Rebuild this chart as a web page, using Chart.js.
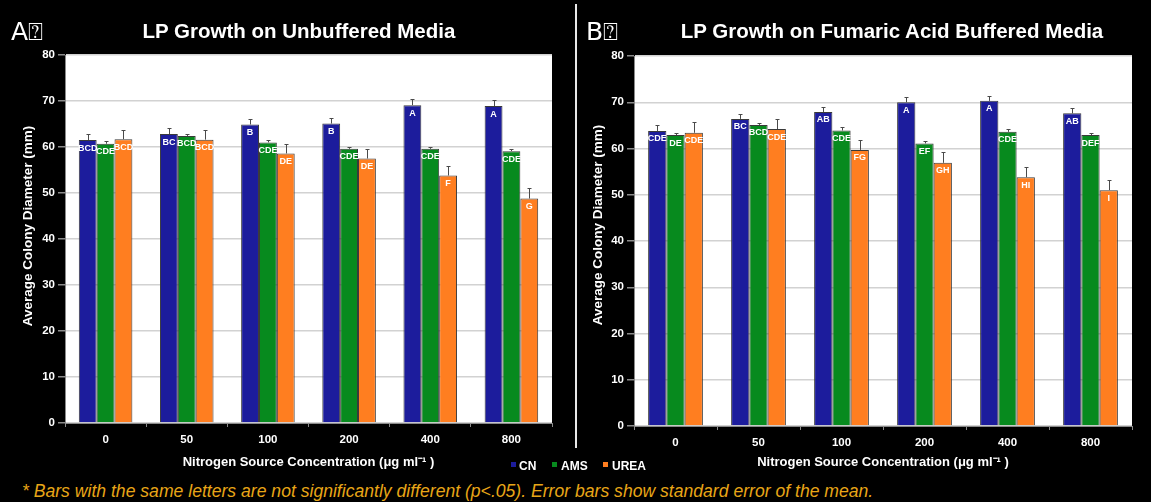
<!DOCTYPE html>
<html><head><meta charset="utf-8">
<script src="https://cdn.jsdelivr.net/npm/chart.js@4.4.1/dist/chart.umd.min.js"></script>
<style>
html,body{margin:0;padding:0;background:#000;width:1151px;height:502px;overflow:hidden;font-family:"Liberation Sans",Arial,sans-serif;}
.abs{position:absolute;white-space:nowrap;color:#fff;}
.ttl{font-weight:bold;font-size:20.5px;line-height:22px;text-align:center;}
.ytl{font-weight:bold;font-size:13.5px;line-height:15px;transform:translate(-50%,-50%) rotate(-90deg);}
.leg{font-weight:bold;font-size:12px;line-height:14px;}
.sq{position:absolute;width:5px;height:5px;}
canvas{position:absolute;top:0;}
</style></head><body>
<canvas id="cA" width="575" height="475" style="left:0px"></canvas>
<canvas id="cB" width="573" height="475" style="left:578px"></canvas>
<div class="abs" style="left:11px;top:17px;font:25px 'DejaVu Sans',sans-serif;">A⍰</div>
<div class="abs" style="left:586px;top:17px;font:25px 'DejaVu Sans',sans-serif;">B⍰</div>
<div class="abs ttl" style="left:0px;width:598px;top:20px;">LP Growth on Unbuffered Media</div>
<div class="abs ttl" style="left:592px;width:600px;top:20px;">LP Growth on Fumaric Acid Buffered Media</div>
<div class="abs ytl" style="left:27px;top:226px;">Average Colony Diameter (mm)</div>
<div class="abs ytl" style="left:597px;top:225px;">Average Colony Diameter (mm)</div>
<div style="position:absolute;left:575px;top:4px;width:2px;height:444px;background:#e8e8e8;"></div>
<div class="sq" style="left:511px;top:462px;background:#1c1c9c"></div>
<div class="abs leg" style="left:519px;top:459px;">CN</div>
<div class="sq" style="left:552px;top:462px;background:#078a1e"></div>
<div class="abs leg" style="left:561px;top:459px;">AMS</div>
<div class="sq" style="left:603px;top:462px;background:#ff7e20"></div>
<div class="abs leg" style="left:612px;top:459px;">UREA</div>
<div class="abs" style="left:22px;top:481px;font-style:italic;font-size:17.6px;line-height:20px;color:#e8a617;">* Bars with the same letters are not significantly different (p&lt;.05). Error bars show standard error of the mean.</div>
<script>
const categories = ['0', '50', '100', '200', '400', '800'];
const yTicks = [0, 10, 20, 30, 40, 50, 60, 70, 80];

// Panel A: unbuffered media
const A_CN       = [61.5, 62.8, 64.9, 65.1, 69.1, 68.9];
const A_CN_err   = [1.3, 1.3, 1.2, 1.3, 1.3, 1.3];
const A_CN_let   = ['BCD', 'BC', 'B', 'B', 'A', 'A'];
const A_AMS      = [60.7, 62.4, 61.0, 59.6, 59.6, 59.1];
const A_AMS_err  = [0.6, 0.5, 0.5, 0.5, 0.5, 0.5];
const A_AMS_let  = ['CDE', 'BCD', 'CDE', 'CDE', 'CDE', 'CDE'];
const A_UREA     = [61.7, 61.6, 58.6, 57.5, 53.8, 48.8];
const A_UREA_err = [2.1, 2.0, 2.1, 2.0, 2.1, 2.2];
const A_UREA_let = ['BCD', 'BCD', 'DE', 'DE', 'F', 'G'];

// Panel B: fumaric acid buffered media
const B_CN       = [63.8, 66.4, 67.9, 70.0, 70.3, 67.6];
const B_CN_err   = [1.2, 1.1, 1.0, 1.2, 1.1, 1.2];
const B_CN_let   = ['CDE', 'BC', 'AB', 'A', 'A', 'AB'];
const B_AMS      = [62.9, 65.1, 63.9, 61.1, 63.6, 62.9];
const B_AMS_err  = [0.5, 0.5, 0.7, 0.5, 0.6, 0.5];
const B_AMS_let  = ['DE', 'BCD', 'CDE', 'EF', 'CDE', 'DEF'];
const B_UREA     = [63.4, 64.2, 59.7, 56.9, 53.8, 51.0];
const B_UREA_err = [2.3, 2.2, 2.1, 2.3, 2.1, 2.2];
const B_UREA_let = ['CDE', 'CDE', 'FG', 'GH', 'HI', 'I'];

const seriesNames = ['CN', 'AMS', 'UREA'];
const seriesColors = ['#1c1c9c', '#078a1e', '#ff7e20'];
const FONT = "'Liberation Sans', Arial, sans-serif";

const errLetters = {
  id: 'errLetters',
  beforeDraw(chart) {
    const {ctx, chartArea: a} = chart;
    ctx.save();
    ctx.fillStyle = '#ffffff';
    ctx.fillRect(a.left, a.top, a.right - a.left, a.bottom - a.top);
    ctx.restore();
  },
  afterDatasetsDraw(chart) {
    const ctx = chart.ctx, ys = chart.scales.y;
    ctx.save();
    chart.data.datasets.forEach((ds, di) => {
      const meta = chart.getDatasetMeta(di);
      meta.data.forEach((bar, i) => {
        const top = bar.y;
        const et = Math.round(ys.getPixelForValue(ds.data[i] + ds.err[i]));
        const x = Math.round(bar.x);
        ctx.strokeStyle = '#4a4a4a';
        ctx.lineWidth = 1;
        ctx.beginPath();
        ctx.moveTo(x + 0.5, top);
        ctx.lineTo(x + 0.5, et);
        ctx.moveTo(x - 1.5, et + 0.5);
        ctx.lineTo(x + 2.5, et + 0.5);
        ctx.stroke();
        ctx.fillStyle = '#ffffff';
        ctx.font = 'bold 9px ' + FONT;
        ctx.textAlign = 'center';
        ctx.textBaseline = 'middle';
        ctx.fillText(ds.letters[i], bar.x, top + 8);
      });
    });
    ctx.restore();
  }
};

function makeChart(id, vals, errs, lets, geo) {
  return new Chart(document.getElementById(id), {
    type: 'bar',
    data: {
      labels: categories,
      datasets: vals.map((v, k) => ({
        label: seriesNames[k],
        data: v,
        err: errs[k],
        letters: lets[k],
        backgroundColor: seriesColors[k],
        borderColor: '#3a3a3a',
        borderWidth: 1,
        borderSkipped: 'bottom',
        categoryPercentage: 0.66,
        barPercentage: 1.0
      }))
    },
    options: {
      responsive: false,
      animation: false,
      layout: {padding: {top: geo.top, right: geo.right, left: 0, bottom: 0}},
      plugins: {legend: {display: false}, tooltip: {enabled: false}, title: {display: false}},
      scales: {
        x: {
          type: 'category',
          offset: true,
          grid: {offset: true, drawOnChartArea: false, tickLength: 4, color: '#8a8a8a', tickColor: '#8a8a8a'},
          border: {color: '#8a8a8a', width: 1},
          ticks: {color: '#ffffff', padding: 6, font: {family: FONT, size: 11.5, weight: 'bold'}},
          title: {display: true, text: 'Nitrogen Source Concentration (μg ml⁻¹ )', color: '#ffffff',
                  font: {family: FONT, size: 13, weight: 'bold'}, padding: {top: 5, bottom: 5}},
          afterFit(s) { s.height = geo.xh; }
        },
        y: {
          min: 0, max: 80,
          afterBuildTicks(s) { s.ticks = yTicks.map(v => ({value: v})); },
          grid: {color: '#d2d2d2', lineWidth: 1.5, tickLength: 7, tickColor: '#8a8a8a'},
          border: {color: '#8a8a8a', width: 1},
          ticks: {color: '#ffffff', padding: 3, font: {family: FONT, size: 11.5, weight: 'bold'}},
          afterFit(s) { s.width = geo.yw; }
        }
      }
    },
    plugins: [errLetters]
  });
}

makeChart('cA', [A_CN, A_AMS, A_UREA], [A_CN_err, A_AMS_err, A_UREA_err], [A_CN_let, A_AMS_let, A_UREA_let],
  {top: 55, right: 23, xh: 52, yw: 65});
makeChart('cB', [B_CN, B_AMS, B_UREA], [B_CN_err, B_AMS_err, B_UREA_err], [B_CN_let, B_AMS_let, B_UREA_let],
  {top: 56, right: 19, xh: 49, yw: 56});
</script>
</body></html>
